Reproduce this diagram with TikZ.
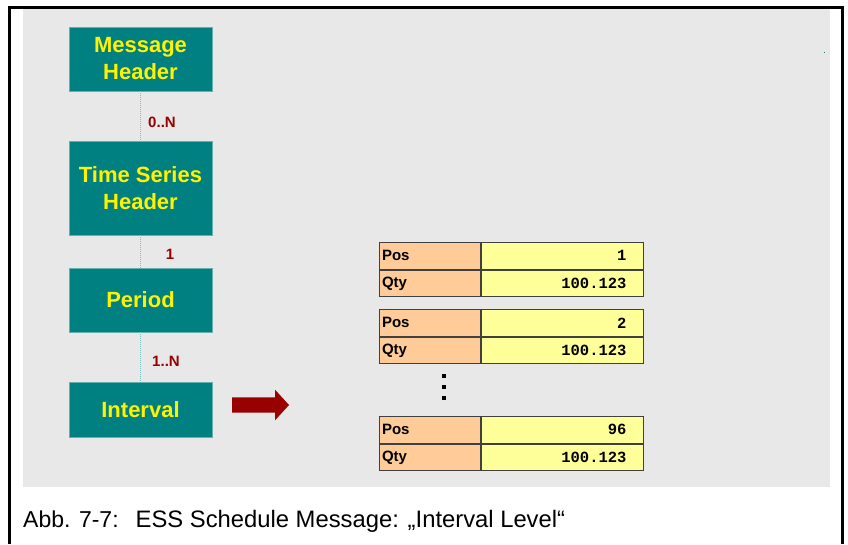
\documentclass[tikz,border=0pt]{standalone}
\usepackage{fontspec}
\setmainfont{Liberation Sans}
\setmonofont{Liberation Mono}
\usepackage{xcolor}
\usepackage{tikz}
\usetikzlibrary{positioning}
\usetikzlibrary{shapes.arrows}

\definecolor{boxteal}{HTML}{008080}
\definecolor{boxline}{HTML}{66AFAF}
\definecolor{bggray}{HTML}{E8E8E8}
\definecolor{darkred}{HTML}{990000}
\definecolor{cellorange}{HTML}{FFCC99}
\definecolor{cellyellow}{HTML}{FFFF99}
\definecolor{linkteal}{HTML}{7FBFBF}

\tikzset{
	entity/.style={rectangle,fill=boxteal,draw=boxline,line width=0.8pt,minimum width=143pt,
		text=yellow,font=\fontsize{22}{27}\selectfont\bfseries,align=center,inner sep=0pt},
	link/.style={linkteal,densely dotted,line width=1pt},
	mult/.style={text=darkred,font=\fontsize{15}{18}\selectfont\bfseries,inner sep=0pt},
	cellname/.style={rectangle,fill=cellorange,draw=black!75,line width=1pt,minimum height=26.7pt,
		text width=96pt,inner xsep=2.5pt,inner ysep=0pt,align=left,anchor=north west,
		font=\fontsize{15}{18}\selectfont\bfseries},
	cellval/.style={rectangle,fill=cellyellow,draw=black!75,line width=1pt,minimum height=26.7pt,
		text width=128pt,inner xsep=17pt,inner ysep=0pt,align=right,anchor=north west,
		font=\fontsize{15.5}{18}\selectfont\ttfamily\bfseries}
}

\begin{document}
\begin{tikzpicture}[x=1pt,y=-1pt]
	\useasboundingbox (0,0) rectangle (848,544);
	% frame and background
	\fill[white] (0,0) rectangle (848,544);
	\fill[bggray] (23,8) rectangle (830,487);
	\draw[line width=3pt] (9.5,544) -- (9.5,7) -- (842.5,7) -- (842.5,544);
	\fill[boxteal] (823.5,51.5) rectangle (825,53);
	% hierarchy
	\node[entity,minimum height=64pt] (msghdr) at (140.5,59) {Message\\Header};
	\node[entity,minimum height=94pt] (tshdr) at (140.5,188) {Time Series\\Header};
	\node[entity,minimum height=64pt] (period) at (140.5,300) {Period};
	\node[entity,minimum height=55pt] (interval) at (140.5,409.5) {Interval};
	\draw[link] (msghdr.south) -- (tshdr.north);
	\draw[link] (tshdr.south) -- (period.north);
	\draw[link] (period.south) -- (interval.north);
	\node[mult] (m1) at (162,122) {0..N};
	\node[mult] (m2) at (170,254) {1};
	\node[mult] (m3) at (166,361) {1..N};
	% arrow to the intervals
	\node[single arrow,fill=darkred,inner xsep=0pt,inner ysep=7.5pt,minimum height=57pt,
		single arrow head extend=7.5pt,single arrow tip angle=95] (arr) at (257,405) {};
	% interval records
	\foreach \t/\y/\n in {a/242/1, b/309/2, c/416/96}{
		\node[cellname] (pos\t) at (379,\y) {Pos};
		\node[cellval] (posv\t) at (pos\t.north east) {\n};
		\node[cellname] (qty\t) at (pos\t.south west) {Qty};
		\node[cellval] (qtyv\t) at (qty\t.north east) {100.123};
	}
	\foreach \y in {376,387,398}
		\fill (441.8,\y-2.2) rectangle (446.2,\y+2.2);
	% caption
	\node[anchor=base west,inner sep=0pt,font=\fontsize{23}{27}\selectfont] (caption) at (23,527)
		{Abb. 7-7:\hspace{17pt}{\fontsize{23.8}{27}\selectfont ESS Schedule Message: „Interval Level“}};
\end{tikzpicture}
\end{document}
